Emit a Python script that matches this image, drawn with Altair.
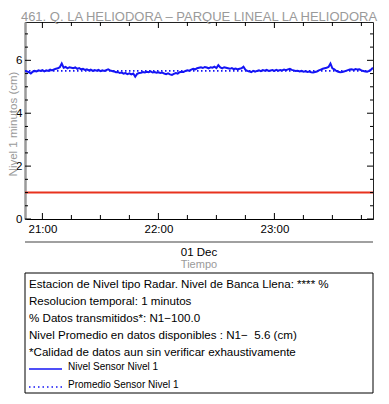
import altair as alt
import pandas as pd

# ---------------- data ----------------
title_text = "461. Q. LA HELIODORA – PARQUE LINEAL LA HELIODORA"
y_title = "Nivel 1 minutos (cm)"
x_title = "Tiempo"
date_label = "01 Dec"

# 1-minute level readings from 20:51 to 23:51 (cm)
level = [
    5.60, 5.58, 5.55, 5.50, 5.57, 5.60, 5.58, 5.62, 5.60, 5.63, 5.58, 5.62, 5.60, 5.65, 5.62,
    5.66, 5.68, 5.70, 5.74, 5.88, 5.72, 5.75, 5.70, 5.74, 5.72, 5.70, 5.73, 5.68, 5.71, 5.66,
    5.68, 5.64, 5.66, 5.62, 5.65, 5.60, 5.63, 5.61, 5.64, 5.59, 5.62, 5.60, 5.63, 5.66, 5.62,
    5.60, 5.58, 5.55, 5.56, 5.52, 5.54, 5.50, 5.52, 5.48, 5.51, 5.47, 5.50, 5.38, 5.49, 5.52,
    5.53, 5.56, 5.54, 5.57, 5.55, 5.58, 5.54, 5.56, 5.53, 5.55, 5.52, 5.54, 5.50, 5.48, 5.51,
    5.47, 5.45, 5.49, 5.52, 5.50, 5.55, 5.57, 5.56, 5.60, 5.62, 5.61, 5.65, 5.68, 5.66, 5.70,
    5.72, 5.74, 5.71, 5.75, 5.73, 5.70, 5.74, 5.72, 5.76, 5.71, 5.82, 5.73, 5.70, 5.74, 5.72,
    5.70, 5.68, 5.71, 5.67, 5.69, 5.66, 5.68, 5.70, 5.76, 5.64, 5.60, 5.58, 5.55, 5.60, 5.57,
    5.60, 5.62, 5.59, 5.63, 5.61, 5.64, 5.60, 5.62, 5.63, 5.60, 5.64, 5.61, 5.63, 5.62, 5.65,
    5.63, 5.66, 5.68, 5.64, 5.62, 5.60, 5.61, 5.58, 5.60, 5.57, 5.59, 5.56, 5.58, 5.55, 5.54,
    5.56, 5.58, 5.62, 5.65, 5.68, 5.70, 5.72, 5.75, 5.88, 5.70, 5.66, 5.60, 5.57, 5.55, 5.56,
    5.58, 5.60, 5.63, 5.65, 5.66, 5.64, 5.67, 5.65, 5.66, 5.62, 5.60, 5.58, 5.57, 5.60, 5.65,
    5.72,
]
mean_level = 5.6
bank_level = 1.0
t_start = "2023-12-01T20:51:00Z"
t_end = "2023-12-01T23:51:00Z"

y_major = [0, 2, 4, 6]
y_minor = [0.5, 1, 1.5, 2.5, 3, 3.5, 4.5, 5, 5.5, 6.5, 7]
x_major = ["2023-12-01T21:00:00Z", "2023-12-01T22:00:00Z", "2023-12-01T23:00:00Z"]
x_minor = ["2023-12-01T21:15:00Z", "2023-12-01T21:30:00Z", "2023-12-01T21:45:00Z",
           "2023-12-01T22:15:00Z", "2023-12-01T22:30:00Z", "2023-12-01T22:45:00Z",
           "2023-12-01T23:15:00Z", "2023-12-01T23:30:00Z", "2023-12-01T23:45:00Z"]

info_lines = [
    "Estacion de Nivel tipo Radar. Nivel de Banca Llena: **** %",
    "Resolucion temporal: 1 minutos",
    "% Datos transmitidos*: N1\u2212100.0",
    "Nivel Promedio en datos disponibles : N1\u2212\u00a0 5.6 (cm)",
    "*Calidad de datos aun sin verificar exhaustivamente",
]
legend_labels = ["Nivel Sensor Nivel 1", "Promedio Sensor Nivel 1"]

# ---------------- setup ----------------
W, H = 348, 197
FONT = "Liberation Sans"
times = pd.date_range("2023-12-01 20:51", periods=len(level), freq="min").strftime("%Y-%m-%dT%H:%M:00Z")
df = pd.DataFrame({"t": list(times), "v": level})
mean_df = pd.DataFrame({"t": [t_start, t_end], "v": [mean_level, mean_level]})
bank_df = pd.DataFrame({"t": [t_start, t_end], "v": [bank_level, bank_level]})
one = pd.DataFrame({"a": [0]})

xscale = alt.Scale(type="utc",
                   domain=[alt.DateTime(year=2023, month=12, date=1, hours=20, minutes=51, utc=True),
                           alt.DateTime(year=2023, month=12, date=1, hours=23, minutes=51, utc=True)])
yscale = alt.Scale(domain=[0, 7.45], nice=False, zero=False)

x_vals = [alt.DateTime(year=2023, month=12, date=1, hours=h, minutes=0, utc=True) for h in (21, 22, 23)]

x_axis = alt.Axis(values=x_vals, format="%H:%M", title=None, ticks=False, tickSize=0,
                  labelPadding=4, labelFont=FONT, labelFontSize=11.5, labelColor="black",
                  domainColor="black", domainWidth=1, grid=False)
y_axis = alt.Axis(values=y_major, title=None, ticks=False, tickSize=0, labelPadding=3,
                  labelFont=FONT, labelFontSize=11.5, labelColor="black",
                  domainColor="#9a9a9a", domainWidth=2.5, grid=False)

X = lambda: alt.X("t:T", scale=xscale, axis=x_axis, title=None)
Y = lambda: alt.Y("v:Q", scale=yscale, axis=y_axis, title=None)

main = alt.Chart(df).mark_line(color="#1414f5", strokeWidth=2, clip=True).encode(x=X(), y=Y())
mean_line = alt.Chart(mean_df).mark_line(color="#1414f5", strokeWidth=1.6, strokeDash=[1.5, 2.5]).encode(
    x=X(), y=Y())
bank_line = alt.Chart(bank_df).mark_line(color="#e8321e", strokeWidth=2).encode(x=X(), y=Y())

def yticks(vals, length):
    d = pd.DataFrame({"v": vals})
    left = alt.Chart(d).mark_rule(color="black", strokeWidth=1).encode(
        y=Y(), x=alt.value(0), x2=alt.value(length))
    right = alt.Chart(d).mark_rule(color="black", strokeWidth=1).encode(
        y=Y(), x=alt.value(W - length), x2=alt.value(W))
    return [left, right]

def xticks(vals, length):
    d = pd.DataFrame({"t": vals})
    bottom = alt.Chart(d).mark_rule(color="black", strokeWidth=1).encode(
        x=X(), y=alt.value(H), y2=alt.value(H - length))
    top = alt.Chart(d).mark_rule(color="black", strokeWidth=1).encode(
        x=X(), y=alt.value(0), y2=alt.value(length))
    return [bottom, top]

ticks = yticks(y_major, 6) + yticks(y_minor, 3) + xticks(x_major, 6) + xticks(x_minor, 4)

def txt(text, x, y, size, color="black", align="left", angle=None, baseline="middle"):
    kw = dict(text=text, font=FONT, fontSize=size, color=color, align=align, baseline=baseline)
    if angle is not None:
        kw["angle"] = angle
    return alt.Chart(one).mark_text(**kw).encode(x=alt.value(x), y=alt.value(y))

# vertical offsets below are relative to the plot top (page y = 22)
texts = [
    txt(title_text, 174, -1.5, 13, color="#9a9a9a", align="center", baseline="alphabetic"),
    txt(y_title, -11, 102, 11.5, color="#9a9a9a", align="center", angle=270),
    txt(date_label, 174, 231, 11.5, align="center"),
    txt(x_title, 174, 242.5, 11, color="#9a9a9a", align="center"),
]

sep = alt.Chart(one).mark_rule(color="#a0a0a0", strokeWidth=2).encode(
    x=alt.value(0), x2=alt.value(W), y=alt.value(220))

box = alt.Chart(one).mark_rect(fill="white", stroke="black", strokeWidth=1).encode(
    x=alt.value(0), x2=alt.value(W), y=alt.value(251), y2=alt.value(371))

info = [txt(line, 4, 263 + i * 17, 11.6) for i, line in enumerate(info_lines)]
leg_solid = alt.Chart(one).mark_rule(color="#1414f5", strokeWidth=1.5).encode(
    x=alt.value(4), x2=alt.value(37), y=alt.value(347))
leg_dot = alt.Chart(one).mark_rule(color="#1414f5", strokeWidth=1.5, strokeDash=[1.5, 3]).encode(
    x=alt.value(4), x2=alt.value(37), y=alt.value(365))
leg_txt = [txt(legend_labels[0], 43, 345, 10), txt(legend_labels[1], 43, 363, 10)]

chart = alt.layer(
    main, bank_line, mean_line, *ticks, *texts, sep, box, *info, leg_solid, leg_dot, *leg_txt
).properties(
    width=W, height=H,
    autosize=alt.AutoSizeParams(type="none"),
    padding={"left": 17, "top": 14, "right": 8, "bottom": 175},
).configure_view(stroke="#222", strokeWidth=1)

chart.save("out.html", embed_options={"renderer": "svg", "actions": False})
